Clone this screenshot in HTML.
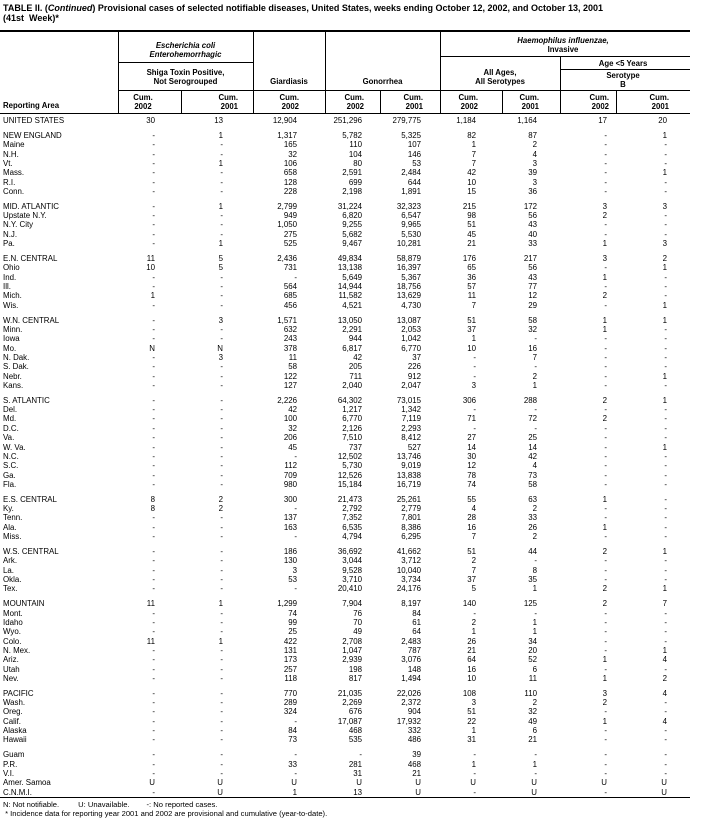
<!DOCTYPE html>
<html><head><meta charset="utf-8">
<style>
body{margin:0;background:#fff;width:703px;height:829px;position:relative;overflow:hidden;font-family:"Liberation Sans",Arial,sans-serif;color:#000}
.a{position:absolute;white-space:nowrap}
.t{font-weight:bold;font-size:9px;left:3px}
.h{font-weight:bold;font-size:7.8px;line-height:9px;text-align:center}
.hr{position:absolute;background:#000;height:1px}
.vr{position:absolute;background:#000;width:1px}
table{position:absolute;left:0;top:116px;border-collapse:collapse;table-layout:fixed;font-size:7.9px;width:686px}
td{padding:0;height:9.35px;line-height:9.35px;text-align:right;white-space:nowrap}
td:first-child{text-align:left;padding-left:3px}
tr.g td{padding-top:5.5px}
.f{font-size:7.6px;left:3px}
</style></head><body>
<div class="a t" style="top:3px">TABLE II. (<i>Continued</i>) Provisional cases of selected notifiable diseases, United States, weeks ending October 12, 2002, and October 13, 2001</div>
<div class="a t" style="top:13px">(41st &nbsp;Week)*</div>
<div class="hr" style="left:0;top:30px;width:690px;height:2px"></div>

<div class="a h" style="left:118px;width:135px;top:41px"><i>Escherichia coli</i><br><i>Enterohemorrhagic</i></div>
<div class="hr" style="left:118px;top:62px;width:135px"></div>
<div class="a h" style="left:118px;width:135px;top:68px">Shiga Toxin Positive,<br>Not Serogrouped</div>
<div class="a h" style="left:253px;width:72px;top:77px">Giardiasis</div>
<div class="a h" style="left:325px;width:115px;top:77px">Gonorrhea</div>
<div class="a h" style="left:440px;width:246px;top:36px"><i>Haemophilus influenzae,</i><br>Invasive</div>
<div class="hr" style="left:440px;top:56px;width:250px"></div>
<div class="a h" style="left:560px;width:126px;top:59px">Age &lt;5 Years</div>
<div class="hr" style="left:560px;top:69px;width:130px"></div>
<div class="a h" style="left:440px;width:120px;top:68px">All Ages,<br>All Serotypes</div>
<div class="a h" style="left:560px;width:126px;top:71px">Serotype<br>B</div>
<div class="hr" style="left:118px;top:90px;width:572px"></div>
<div class="a h" style="left:3px;top:101px;text-align:left">Reporting Area</div>

<div class="a h" style="left:128px;width:30px;top:93px">Cum.<br>2002</div>
<div class="a h" style="left:208px;width:30px;top:93px;text-align:right">Cum.<br>2001</div>
<div class="a h" style="left:269px;width:30px;top:93px;text-align:right">Cum.<br>2002</div>
<div class="a h" style="left:334px;width:30px;top:93px;text-align:right">Cum.<br>2002</div>
<div class="a h" style="left:393px;width:30px;top:93px;text-align:right">Cum.<br>2001</div>
<div class="a h" style="left:448px;width:30px;top:93px;text-align:right">Cum.<br>2002</div>
<div class="a h" style="left:509px;width:30px;top:93px;text-align:right">Cum.<br>2001</div>
<div class="a h" style="left:579px;width:30px;top:93px;text-align:right">Cum.<br>2002</div>
<div class="a h" style="left:639px;width:30px;top:93px;text-align:right">Cum.<br>2001</div>
<div class="hr" style="left:0;top:113px;width:690px"></div>

<div class="vr" style="left:118px;top:32px;height:81px"></div>
<div class="vr" style="left:253px;top:32px;height:81px"></div>
<div class="vr" style="left:325px;top:32px;height:81px"></div>
<div class="vr" style="left:440px;top:32px;height:81px"></div>
<div class="vr" style="left:560px;top:56px;height:57px"></div>
<div class="vr" style="left:181px;top:90px;height:23px"></div>
<div class="vr" style="left:380px;top:90px;height:23px"></div>
<div class="vr" style="left:502px;top:90px;height:23px"></div>
<div class="vr" style="left:616px;top:90px;height:23px"></div>

<table>
<colgroup><col style="width:118px"><col style="width:37px"><col style="width:68px"><col style="width:74px"><col style="width:65px"><col style="width:59px"><col style="width:55px"><col style="width:61px"><col style="width:70px"><col style="width:60px"><col style="width:19px"></colgroup>
<tr><td>UNITED STATES</td><td>30</td><td>13</td><td>12,904</td><td>251,296</td><td>279,775</td><td>1,184</td><td>1,164</td><td>17</td><td>20</td><td></td></tr>
<tr class="g"><td>NEW ENGLAND</td><td>-</td><td>1</td><td>1,317</td><td>5,782</td><td>5,325</td><td>82</td><td>87</td><td>-</td><td>1</td><td></td></tr>
<tr><td>Maine</td><td>-</td><td>-</td><td>165</td><td>110</td><td>107</td><td>1</td><td>2</td><td>-</td><td>-</td><td></td></tr>
<tr><td>N.H.</td><td>-</td><td>-</td><td>32</td><td>104</td><td>146</td><td>7</td><td>4</td><td>-</td><td>-</td><td></td></tr>
<tr><td>Vt.</td><td>-</td><td>1</td><td>106</td><td>80</td><td>53</td><td>7</td><td>3</td><td>-</td><td>-</td><td></td></tr>
<tr><td>Mass.</td><td>-</td><td>-</td><td>658</td><td>2,591</td><td>2,484</td><td>42</td><td>39</td><td>-</td><td>1</td><td></td></tr>
<tr><td>R.I.</td><td>-</td><td>-</td><td>128</td><td>699</td><td>644</td><td>10</td><td>3</td><td>-</td><td>-</td><td></td></tr>
<tr><td>Conn.</td><td>-</td><td>-</td><td>228</td><td>2,198</td><td>1,891</td><td>15</td><td>36</td><td>-</td><td>-</td><td></td></tr>
<tr class="g"><td>MID. ATLANTIC</td><td>-</td><td>1</td><td>2,799</td><td>31,224</td><td>32,323</td><td>215</td><td>172</td><td>3</td><td>3</td><td></td></tr>
<tr><td>Upstate N.Y.</td><td>-</td><td>-</td><td>949</td><td>6,820</td><td>6,547</td><td>98</td><td>56</td><td>2</td><td>-</td><td></td></tr>
<tr><td>N.Y. City</td><td>-</td><td>-</td><td>1,050</td><td>9,255</td><td>9,965</td><td>51</td><td>43</td><td>-</td><td>-</td><td></td></tr>
<tr><td>N.J.</td><td>-</td><td>-</td><td>275</td><td>5,682</td><td>5,530</td><td>45</td><td>40</td><td>-</td><td>-</td><td></td></tr>
<tr><td>Pa.</td><td>-</td><td>1</td><td>525</td><td>9,467</td><td>10,281</td><td>21</td><td>33</td><td>1</td><td>3</td><td></td></tr>
<tr class="g"><td>E.N. CENTRAL</td><td>11</td><td>5</td><td>2,436</td><td>49,834</td><td>58,879</td><td>176</td><td>217</td><td>3</td><td>2</td><td></td></tr>
<tr><td>Ohio</td><td>10</td><td>5</td><td>731</td><td>13,138</td><td>16,397</td><td>65</td><td>56</td><td>-</td><td>1</td><td></td></tr>
<tr><td>Ind.</td><td>-</td><td>-</td><td>-</td><td>5,649</td><td>5,367</td><td>36</td><td>43</td><td>1</td><td>-</td><td></td></tr>
<tr><td>Ill.</td><td>-</td><td>-</td><td>564</td><td>14,944</td><td>18,756</td><td>57</td><td>77</td><td>-</td><td>-</td><td></td></tr>
<tr><td>Mich.</td><td>1</td><td>-</td><td>685</td><td>11,582</td><td>13,629</td><td>11</td><td>12</td><td>2</td><td>-</td><td></td></tr>
<tr><td>Wis.</td><td>-</td><td>-</td><td>456</td><td>4,521</td><td>4,730</td><td>7</td><td>29</td><td>-</td><td>1</td><td></td></tr>
<tr class="g"><td>W.N. CENTRAL</td><td>-</td><td>3</td><td>1,571</td><td>13,050</td><td>13,087</td><td>51</td><td>58</td><td>1</td><td>1</td><td></td></tr>
<tr><td>Minn.</td><td>-</td><td>-</td><td>632</td><td>2,291</td><td>2,053</td><td>37</td><td>32</td><td>1</td><td>-</td><td></td></tr>
<tr><td>Iowa</td><td>-</td><td>-</td><td>243</td><td>944</td><td>1,042</td><td>1</td><td>-</td><td>-</td><td>-</td><td></td></tr>
<tr><td>Mo.</td><td>N</td><td>N</td><td>378</td><td>6,817</td><td>6,770</td><td>10</td><td>16</td><td>-</td><td>-</td><td></td></tr>
<tr><td>N. Dak.</td><td>-</td><td>3</td><td>11</td><td>42</td><td>37</td><td>-</td><td>7</td><td>-</td><td>-</td><td></td></tr>
<tr><td>S. Dak.</td><td>-</td><td>-</td><td>58</td><td>205</td><td>226</td><td>-</td><td>-</td><td>-</td><td>-</td><td></td></tr>
<tr><td>Nebr.</td><td>-</td><td>-</td><td>122</td><td>711</td><td>912</td><td>-</td><td>2</td><td>-</td><td>1</td><td></td></tr>
<tr><td>Kans.</td><td>-</td><td>-</td><td>127</td><td>2,040</td><td>2,047</td><td>3</td><td>1</td><td>-</td><td>-</td><td></td></tr>
<tr class="g"><td>S. ATLANTIC</td><td>-</td><td>-</td><td>2,226</td><td>64,302</td><td>73,015</td><td>306</td><td>288</td><td>2</td><td>1</td><td></td></tr>
<tr><td>Del.</td><td>-</td><td>-</td><td>42</td><td>1,217</td><td>1,342</td><td>-</td><td>-</td><td>-</td><td>-</td><td></td></tr>
<tr><td>Md.</td><td>-</td><td>-</td><td>100</td><td>6,770</td><td>7,119</td><td>71</td><td>72</td><td>2</td><td>-</td><td></td></tr>
<tr><td>D.C.</td><td>-</td><td>-</td><td>32</td><td>2,126</td><td>2,293</td><td>-</td><td>-</td><td>-</td><td>-</td><td></td></tr>
<tr><td>Va.</td><td>-</td><td>-</td><td>206</td><td>7,510</td><td>8,412</td><td>27</td><td>25</td><td>-</td><td>-</td><td></td></tr>
<tr><td>W. Va.</td><td>-</td><td>-</td><td>45</td><td>737</td><td>527</td><td>14</td><td>14</td><td>-</td><td>1</td><td></td></tr>
<tr><td>N.C.</td><td>-</td><td>-</td><td>-</td><td>12,502</td><td>13,746</td><td>30</td><td>42</td><td>-</td><td>-</td><td></td></tr>
<tr><td>S.C.</td><td>-</td><td>-</td><td>112</td><td>5,730</td><td>9,019</td><td>12</td><td>4</td><td>-</td><td>-</td><td></td></tr>
<tr><td>Ga.</td><td>-</td><td>-</td><td>709</td><td>12,526</td><td>13,838</td><td>78</td><td>73</td><td>-</td><td>-</td><td></td></tr>
<tr><td>Fla.</td><td>-</td><td>-</td><td>980</td><td>15,184</td><td>16,719</td><td>74</td><td>58</td><td>-</td><td>-</td><td></td></tr>
<tr class="g"><td>E.S. CENTRAL</td><td>8</td><td>2</td><td>300</td><td>21,473</td><td>25,261</td><td>55</td><td>63</td><td>1</td><td>-</td><td></td></tr>
<tr><td>Ky.</td><td>8</td><td>2</td><td>-</td><td>2,792</td><td>2,779</td><td>4</td><td>2</td><td>-</td><td>-</td><td></td></tr>
<tr><td>Tenn.</td><td>-</td><td>-</td><td>137</td><td>7,352</td><td>7,801</td><td>28</td><td>33</td><td>-</td><td>-</td><td></td></tr>
<tr><td>Ala.</td><td>-</td><td>-</td><td>163</td><td>6,535</td><td>8,386</td><td>16</td><td>26</td><td>1</td><td>-</td><td></td></tr>
<tr><td>Miss.</td><td>-</td><td>-</td><td>-</td><td>4,794</td><td>6,295</td><td>7</td><td>2</td><td>-</td><td>-</td><td></td></tr>
<tr class="g"><td>W.S. CENTRAL</td><td>-</td><td>-</td><td>186</td><td>36,692</td><td>41,662</td><td>51</td><td>44</td><td>2</td><td>1</td><td></td></tr>
<tr><td>Ark.</td><td>-</td><td>-</td><td>130</td><td>3,044</td><td>3,712</td><td>2</td><td>-</td><td>-</td><td>-</td><td></td></tr>
<tr><td>La.</td><td>-</td><td>-</td><td>3</td><td>9,528</td><td>10,040</td><td>7</td><td>8</td><td>-</td><td>-</td><td></td></tr>
<tr><td>Okla.</td><td>-</td><td>-</td><td>53</td><td>3,710</td><td>3,734</td><td>37</td><td>35</td><td>-</td><td>-</td><td></td></tr>
<tr><td>Tex.</td><td>-</td><td>-</td><td>-</td><td>20,410</td><td>24,176</td><td>5</td><td>1</td><td>2</td><td>1</td><td></td></tr>
<tr class="g"><td>MOUNTAIN</td><td>11</td><td>1</td><td>1,299</td><td>7,904</td><td>8,197</td><td>140</td><td>125</td><td>2</td><td>7</td><td></td></tr>
<tr><td>Mont.</td><td>-</td><td>-</td><td>74</td><td>76</td><td>84</td><td>-</td><td>-</td><td>-</td><td>-</td><td></td></tr>
<tr><td>Idaho</td><td>-</td><td>-</td><td>99</td><td>70</td><td>61</td><td>2</td><td>1</td><td>-</td><td>-</td><td></td></tr>
<tr><td>Wyo.</td><td>-</td><td>-</td><td>25</td><td>49</td><td>64</td><td>1</td><td>1</td><td>-</td><td>-</td><td></td></tr>
<tr><td>Colo.</td><td>11</td><td>1</td><td>422</td><td>2,708</td><td>2,483</td><td>26</td><td>34</td><td>-</td><td>-</td><td></td></tr>
<tr><td>N. Mex.</td><td>-</td><td>-</td><td>131</td><td>1,047</td><td>787</td><td>21</td><td>20</td><td>-</td><td>1</td><td></td></tr>
<tr><td>Ariz.</td><td>-</td><td>-</td><td>173</td><td>2,939</td><td>3,076</td><td>64</td><td>52</td><td>1</td><td>4</td><td></td></tr>
<tr><td>Utah</td><td>-</td><td>-</td><td>257</td><td>198</td><td>148</td><td>16</td><td>6</td><td>-</td><td>-</td><td></td></tr>
<tr><td>Nev.</td><td>-</td><td>-</td><td>118</td><td>817</td><td>1,494</td><td>10</td><td>11</td><td>1</td><td>2</td><td></td></tr>
<tr class="g"><td>PACIFIC</td><td>-</td><td>-</td><td>770</td><td>21,035</td><td>22,026</td><td>108</td><td>110</td><td>3</td><td>4</td><td></td></tr>
<tr><td>Wash.</td><td>-</td><td>-</td><td>289</td><td>2,269</td><td>2,372</td><td>3</td><td>2</td><td>2</td><td>-</td><td></td></tr>
<tr><td>Oreg.</td><td>-</td><td>-</td><td>324</td><td>676</td><td>904</td><td>51</td><td>32</td><td>-</td><td>-</td><td></td></tr>
<tr><td>Calif.</td><td>-</td><td>-</td><td>-</td><td>17,087</td><td>17,932</td><td>22</td><td>49</td><td>1</td><td>4</td><td></td></tr>
<tr><td>Alaska</td><td>-</td><td>-</td><td>84</td><td>468</td><td>332</td><td>1</td><td>6</td><td>-</td><td>-</td><td></td></tr>
<tr><td>Hawaii</td><td>-</td><td>-</td><td>73</td><td>535</td><td>486</td><td>31</td><td>21</td><td>-</td><td>-</td><td></td></tr>
<tr class="g"><td>Guam</td><td>-</td><td>-</td><td>-</td><td>-</td><td>39</td><td>-</td><td>-</td><td>-</td><td>-</td><td></td></tr>
<tr><td>P.R.</td><td>-</td><td>-</td><td>33</td><td>281</td><td>468</td><td>1</td><td>1</td><td>-</td><td>-</td><td></td></tr>
<tr><td>V.I.</td><td>-</td><td>-</td><td>-</td><td>31</td><td>21</td><td>-</td><td>-</td><td>-</td><td>-</td><td></td></tr>
<tr><td>Amer. Samoa</td><td>U</td><td>U</td><td>U</td><td>U</td><td>U</td><td>U</td><td>U</td><td>U</td><td>U</td><td></td></tr>
<tr><td>C.N.M.I.</td><td>-</td><td>U</td><td>1</td><td>13</td><td>U</td><td>-</td><td>U</td><td>-</td><td>U</td><td></td></tr>
</table>
<div class="hr" style="left:0;top:797px;width:690px"></div>
<div class="a f" style="top:800px">N: Not notifiable.&nbsp;&nbsp;&nbsp;&nbsp;&nbsp;&nbsp;&nbsp;&nbsp;&nbsp;U: Unavailable.&nbsp;&nbsp;&nbsp;&nbsp;&nbsp;&nbsp;&nbsp;&nbsp;-: No reported cases.</div>
<div class="a f" style="top:809px">&nbsp;* Incidence data for reporting year 2001 and 2002 are provisional and cumulative (year-to-date).</div>
</body></html>
